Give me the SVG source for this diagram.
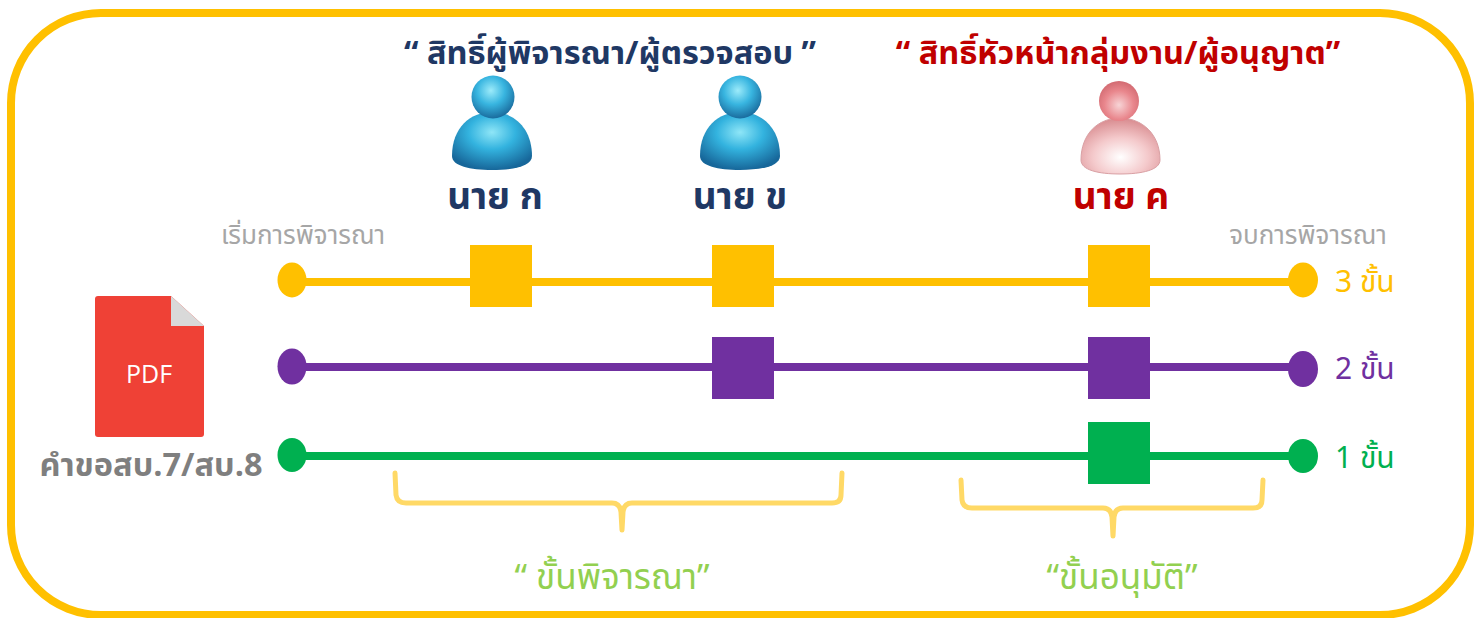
<svg xmlns="http://www.w3.org/2000/svg" width="1483" height="618" viewBox="0 0 1483 618">
<defs>
<style>
.t{font-family:"Noto Sans Thai","Noto Sans","Liberation Sans",sans-serif;}
.b{font-weight:bold;}
.navy{fill:#1F3864;}
.red{fill:#C00000;}
.gray{fill:#A6A6A6;}
.sq-y{fill:#FFC000;}
.sq-p{fill:#7030A0;}
.sq-g{fill:#00B050;}
.brace{fill:none;stroke:#FFD966;stroke-width:5;stroke-linejoin:round;stroke-linecap:round;}
</style>
<radialGradient id="blueBody" cx="0.5" cy="0.35" r="0.65">
<stop offset="0" stop-color="#8FE6F7"/>
<stop offset="0.45" stop-color="#33B3DF"/>
<stop offset="1" stop-color="#17679A"/>
</radialGradient>
<radialGradient id="blueHead" cx="0.45" cy="0.35" r="0.65">
<stop offset="0" stop-color="#9CEBFA"/>
<stop offset="0.5" stop-color="#38B5E0"/>
<stop offset="1" stop-color="#1A6C9E"/>
</radialGradient>
<radialGradient id="redBody" cx="0.5" cy="0.7" r="0.7">
<stop offset="0" stop-color="#FFFFFF"/>
<stop offset="0.5" stop-color="#F4C9CB"/>
<stop offset="1" stop-color="#D88A8E"/>
</radialGradient>
<radialGradient id="redHead" cx="0.5" cy="0.6" r="0.6">
<stop offset="0" stop-color="#F7D4D6"/>
<stop offset="0.6" stop-color="#E9878D"/>
<stop offset="1" stop-color="#D26A71"/>
</radialGradient>
</defs>
<rect x="0" y="0" width="1483" height="618" fill="#FFFFFF"/>
<rect id="frame" x="11" y="13" width="1459" height="602" rx="90" ry="90" fill="none" stroke="#FFC000" stroke-width="8"/>

<g id="connectors">
<line x1="292" y1="282" x2="1303" y2="282" stroke="#FFC000" stroke-width="8"/>
<line x1="292" y1="367" x2="1303" y2="367" stroke="#7030A0" stroke-width="8"/>
<line x1="292" y1="456" x2="1303" y2="456" stroke="#00B050" stroke-width="8"/>
</g>

<g id="title-reviewers"><text class="t b navy" x="610" y="64" font-size="32.5" text-anchor="middle">“ สิทธิ์ผู้พิจารณา/ผู้ตรวจสอบ ”</text></g>
<g id="title-approver"><text class="t b red" x="1118" y="64" font-size="32.5" text-anchor="middle">“ สิทธิ์หัวหน้ากลุ่มงาน/ผู้อนุญาต”</text></g>

<g id="person-a">
<path d="M452,156 C452,128 470,112 492,112 C514,112 532,128 532,156 C532,166 514,170 492,170 C470,170 452,166 452,156 Z" fill="url(#blueBody)"/>
<circle cx="493" cy="97" r="21.5" fill="url(#blueHead)"/>
<text class="t b navy" x="495" y="209" font-size="37" text-anchor="middle">นาย ก</text>
</g>
<g id="person-b">
<path d="M700,156 C700,128 718,112 740,112 C762,112 780,128 780,156 C780,166 762,170 740,170 C718,170 700,166 700,156 Z" fill="url(#blueBody)"/>
<circle cx="740" cy="97" r="21.5" fill="url(#blueHead)"/>
<text class="t b navy" x="740" y="209" font-size="37" text-anchor="middle">นาย ข</text>
</g>
<g id="person-c">
<path d="M1081,160 C1081,134 1098,118 1120,118 C1142,118 1160,134 1160,160 C1160,170 1142,174 1120,174 C1098,174 1081,170 1081,160 Z" fill="url(#redBody)" stroke="#D9A0A4" stroke-width="1"/>
<circle cx="1119" cy="101" r="20" fill="url(#redHead)"/>
<text class="t b red" x="1121" y="209" font-size="37" text-anchor="middle">นาย ค</text>
</g>

<g id="start-label"><text class="t gray" x="303" y="244" font-size="26" text-anchor="middle">เริ่มการพิจารณา</text></g>
<g id="end-label"><text class="t gray" x="1308" y="244" font-size="26" text-anchor="middle">จบการพิจารณา</text></g>

<g id="row3">
<ellipse cx="292" cy="280" rx="14.5" ry="17.5" fill="#FFC000"/>
<rect class="sq-y" x="470" y="245" width="62" height="62"/>
<rect class="sq-y" x="712" y="245" width="62" height="62"/>
<rect class="sq-y" x="1088" y="245" width="62" height="62"/>
<ellipse cx="1303" cy="280" rx="15" ry="17.5" fill="#FFC000"/>
<text class="t" x="1335" y="292" font-size="30" fill="#FFC000">3 ขั้น</text>
</g>
<g id="row2">
<ellipse cx="292" cy="366.5" rx="14.5" ry="18" fill="#7030A0"/>
<rect class="sq-p" x="712" y="337" width="62" height="62"/>
<rect class="sq-p" x="1088" y="337" width="62" height="62"/>
<ellipse cx="1303" cy="369" rx="15" ry="18" fill="#7030A0"/>
<text class="t" x="1335" y="379" font-size="30" fill="#7030A0">2 ขั้น</text>
</g>
<g id="row1">
<ellipse cx="292" cy="455" rx="14.5" ry="17" fill="#00B050"/>
<rect class="sq-g" x="1088" y="422" width="62" height="62"/>
<ellipse cx="1303" cy="456" rx="15" ry="17" fill="#00B050"/>
<text class="t" x="1335" y="468" font-size="30" fill="#00B050">1 ขั้น</text>
</g>

<g id="pdf">
<path d="M98,296 L171,296 L204,326 L204,434 Q204,437 201,437 L98,437 Q95,437 95,434 L95,299 Q95,296 98,296 Z" fill="#EF4136"/>
<path d="M171,296 L204,326 L171,326 Z" fill="#D9D9D9"/>
<text x="149" y="383" font-family="'Open Sans','Liberation Sans',sans-serif" font-size="25" fill="#FFFFFF" text-anchor="middle">PDF</text>
<text class="t b" x="151" y="476" font-size="32.5" fill="#7F7F7F" text-anchor="middle">คำขอสบ.7/สบ.8</text>
</g>

<g id="brace-review">
<path class="brace" d="M395,473 L396,495 Q397,503 406,503 L612,503 Q620,503 621,512 L622,530 L623,512 Q624,503 632,503 L832,503 Q841,503 841,495 L842,473"/>
<text class="t" x="612" y="589" font-size="35" fill="#92D050" text-anchor="middle">“ ขั้นพิจารณา”</text>
</g>
<g id="brace-approve">
<path class="brace" d="M961,480 L962,500 Q963,508 972,508 L1103,508 Q1111,508 1112,517 L1113,536 L1114,517 Q1115,508 1123,508 L1253,508 Q1262,508 1262,500 L1263,480"/>
<text class="t" x="1122" y="589" font-size="35" fill="#92D050" text-anchor="middle">“ขั้นอนุมัติ”</text>
</g>
</svg>
